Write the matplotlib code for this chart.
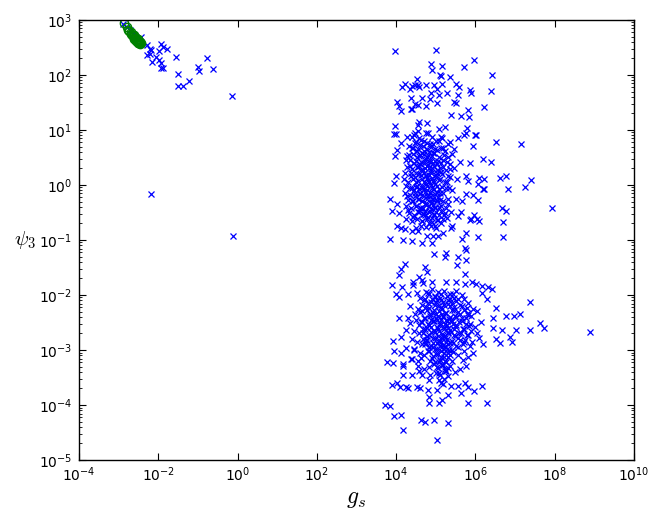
import numpy as np
import matplotlib
matplotlib.use("Agg")
import matplotlib.pyplot as plt
from matplotlib.ticker import LogLocator, NullLocator, NullFormatter

# values, stored as (log10 g_s, log10 psi_3)

# blue crosses near the top left corner
top_left = [
    (-2.88, 2.93), (-2.80, 2.88), (-2.72, 2.81), (-2.65, 2.75), (-2.55, 2.67),
    (-2.43, 2.69), (-2.28, 2.54), (-2.22, 2.48), (-2.18, 2.45), (-2.28, 2.36),
    (-2.22, 2.39), (-2.16, 2.24), (-2.05, 2.33), (-1.97, 2.27), (-1.94, 2.21),
    (-1.94, 2.12), (-1.88, 2.12), (-1.94, 2.56), (-1.88, 2.51), (-1.78, 2.48),
    (-1.97, 2.44), (-1.55, 2.32), (-1.51, 2.02), (-1.51, 1.80), (-1.38, 1.80),
    (-1.22, 1.89), (-1.01, 2.14), (-0.97, 2.08), (-0.78, 2.30), (-0.61, 2.10),
    (-0.13, 1.61), (-2.18, -0.17), (-0.12, -0.93),
]

# green open circles
green = [
    (-2.86, 2.94), (-2.80, 2.87), (-2.76, 2.82), (-2.73, 2.80), (-2.70, 2.78),
    (-2.68, 2.74), (-2.66, 2.73), (-2.64, 2.72), (-2.62, 2.70), (-2.61, 2.68),
    (-2.60, 2.66), (-2.58, 2.67), (-2.57, 2.64), (-2.56, 2.62), (-2.55, 2.64),
    (-2.54, 2.61), (-2.53, 2.63), (-2.52, 2.60), (-2.51, 2.62), (-2.50, 2.59),
    (-2.49, 2.61), (-2.48, 2.58), (-2.47, 2.60), (-2.46, 2.57), (-2.45, 2.59),
    (-2.44, 2.58), (-2.60, 2.72), (-2.55, 2.68), (-2.52, 2.65), (-2.50, 2.62),
]

# upper cluster, outer points
upper_outer = [
    (3.97, 2.44), (5.01, 2.46), (4.88, 2.20), (4.91, 2.09), (5.16, 2.16),
    (5.10, 2.00), (5.13, 1.98), (5.72, 2.14), (5.97, 2.27), (6.42, 2.00),
    (5.35, 1.96), (4.52, 1.93), (4.14, 1.79), (4.22, 1.84), (4.34, 1.74),
    (4.41, 1.80), (4.47, 1.82), (4.54, 1.81), (4.57, 1.79), (4.76, 1.82),
    (4.95, 1.82), (5.03, 1.74), (5.16, 1.84), (5.09, 1.64), (4.88, 1.68),
    (5.27, 1.68), (5.52, 1.84), (5.59, 1.79), (5.55, 1.63), (5.87, 1.73),
    (5.88, 1.68), (6.39, 1.70), (4.37, 1.58), (4.66, 1.58), (4.85, 1.56),
    (4.47, 1.47), (4.56, 1.46), (4.74, 1.44), (4.37, 1.38), (4.41, 1.39),
    (4.03, 1.50), (4.06, 1.43), (4.12, 1.35), (5.03, 1.49), (5.47, 1.51),
    (5.51, 1.49), (5.39, 1.28), (5.63, 1.26), (5.81, 1.37), (5.84, 1.23),
    (6.22, 1.41), (4.57, 1.15), (4.56, 1.09), (4.78, 1.12), (3.97, 1.07),
    (3.99, 0.93), (4.56, 0.99), (4.81, 0.95), (5.07, 1.01), (5.22, 1.06),
    (5.78, 1.03), (5.76, 0.95), (5.70, 0.91), (5.99, 0.91), (4.28, 0.88),
    (4.41, 0.87), (4.47, 0.94), (4.91, 0.87), (5.16, 0.85), (6.53, 0.79),
    (7.16, 0.74), (6.18, 0.47), (6.38, 0.42), (6.62, 0.12), (6.76, 0.17),
    (7.41, 0.09), (7.24, -0.04), (6.81, -0.07), (6.66, -0.41), (6.78, -0.47),
    (7.92, -0.41), (6.70, -0.67), (6.70, -0.95), (3.84, -0.25), (3.89, -0.47),
    (3.84, -0.98), (4.16, -1.00), (4.39, -1.02), (5.74, -1.14), (6.06, -0.94),
    (5.87, -0.63), (6.08, -0.66), (6.20, -0.08), (6.08, 0.13), (5.87, 0.40),
    (5.93, 0.70), (3.95, 0.93), (4.66, -1.05), (4.91, -1.06), (5.17, -0.88),
    (5.39, -0.79), (5.67, -0.99), (5.76, -0.87), (5.89, -0.61), (6.03, -0.61),
    (5.97, -0.54), (5.93, -0.19), (6.06, -0.28), (5.64, -0.49), (4.03, -0.75),
    (4.12, -0.78), (4.22, -0.80), (4.41, -0.84), (4.56, -0.84), (4.78, -0.92),
    (4.92, -0.93), (5.06, -0.92), (4.07, -0.51), (4.03, -0.35), (3.95, 0.04),
    (3.99, 0.16), (3.97, 0.52), (4.03, 0.64), (4.12, 0.76), (4.45, 0.91),
    (4.74, 0.94), (5.14, 0.87), (5.37, 0.79), (5.57, 0.85), (6.01, 0.91),
    (5.62, 0.41), (5.37, 0.39), (5.53, 0.10), (5.77, 0.16), (5.82, 0.07),
    (6.22, 0.11), (6.07, 0.01), (6.22, -0.08), (5.76, -0.17), (5.66, -0.29),
    (5.57, -0.57), (5.42, -0.75),
]

# upper cluster, dense core
upper_core = [
    (4.52, 0.62), (4.60, 0.55), (4.68, 0.70), (4.75, 0.48), (4.83, 0.60),
    (4.90, 0.52), (4.97, 0.66), (5.05, 0.44), (4.45, 0.40), (4.55, 0.33),
    (4.63, 0.42), (4.72, 0.30), (4.80, 0.37), (4.88, 0.25), (4.95, 0.35),
    (5.02, 0.22), (5.10, 0.31), (5.18, 0.45), (5.25, 0.28), (4.38, 0.22),
    (4.47, 0.15), (4.57, 0.20), (4.66, 0.10), (4.74, 0.18), (4.82, 0.05),
    (4.91, 0.12), (4.99, 0.02), (5.07, 0.09), (5.15, -0.03), (5.23, 0.06),
    (4.35, -0.05), (4.44, -0.10), (4.53, -0.02), (4.61, -0.15), (4.70, -0.07),
    (4.78, -0.20), (4.86, -0.12), (4.94, -0.25), (5.03, -0.15), (5.11, -0.28),
    (4.40, -0.30), (4.49, -0.38), (4.58, -0.26), (4.67, -0.42), (4.76, -0.33),
    (4.85, -0.47), (4.93, -0.36), (5.01, -0.50), (5.09, -0.40), (5.20, -0.55),
    (4.30, -0.45), (4.43, -0.58), (4.55, -0.50), (4.64, -0.65), (4.73, -0.55),
    (4.82, -0.70), (4.90, -0.60), (4.98, -0.74), (5.06, -0.63), (5.14, -0.70),
    (4.25, 0.45), (4.33, 0.55), (4.42, 0.68), (4.50, 0.78), (4.58, 0.85),
    (4.70, 0.80), (4.85, 0.75), (5.00, 0.80), (5.12, 0.68), (5.22, 0.62),
    (5.30, 0.50), (5.35, 0.15), (5.40, -0.10), (5.32, -0.35), (5.28, -0.60),
    (5.45, 0.30), (5.50, -0.25), (5.30, 0.75), (5.45, 0.65), (5.38, -0.50),
    (4.62, 0.28), (4.70, 0.40), (4.78, 0.12), (4.86, 0.45), (4.94, 0.08),
    (5.04, 0.38), (4.58, -0.08), (4.66, -0.30), (4.74, 0.02), (4.82, -0.38),
    (4.90, -0.18), (4.98, -0.42), (5.06, -0.22), (4.72, -0.48), (4.80, -0.58),
    (4.88, -0.33), (4.96, -0.55), (5.04, -0.30), (4.64, 0.58), (4.77, 0.65),
    (4.50, 0.05), (4.48, -0.20), (4.52, 0.50), (4.60, -0.42), (4.68, -0.52),
    (4.84, 0.30), (4.92, 0.40), (5.00, 0.15), (5.08, -0.08), (5.16, 0.20),
    (4.20, 0.10), (4.28, -0.20), (4.25, -0.62), (4.36, 0.35), (4.32, 0.70),
    (4.60, 0.72), (4.96, 0.58), (5.13, -0.48), (5.19, -0.15), (5.26, -0.05),
    (4.71, 0.22), (4.79, -0.10), (4.87, 0.00), (4.95, -0.08), (4.69, -0.20),
    (4.83, 0.18), (4.91, -0.25), (4.77, 0.50), (4.57, 0.35), (4.65, -0.02),
]

# more of the upper core, where the crosses merge into a solid patch
upper_core_fill = [
    (4.47, 0.76), (4.63, 0.81), (4.79, 0.77), (4.94, 0.74), (5.09, 0.80),
    (4.39, 0.68), (4.55, 0.65), (4.71, 0.62), (4.88, 0.69), (5.02, 0.63),
    (5.18, 0.67), (4.28, 0.53), (4.43, 0.57), (4.57, 0.52), (4.69, 0.56),
    (4.81, 0.54), (4.93, 0.58), (5.07, 0.51), (5.21, 0.55), (5.40, 0.57),
    (4.34, 0.45), (4.49, 0.43), (4.61, 0.39), (4.73, 0.46), (4.86, 0.41),
    (4.99, 0.44), (5.13, 0.40), (5.28, 0.42), (4.27, 0.33), (4.41, 0.29),
    (4.53, 0.32), (4.67, 0.28), (4.79, 0.34), (4.91, 0.30), (5.04, 0.27),
    (5.19, 0.33), (5.36, 0.29), (4.23, 0.21), (4.37, 0.17), (4.51, 0.22),
    (4.63, 0.18), (4.76, 0.16), (4.89, 0.21), (5.01, 0.19), (5.14, 0.23),
    (5.31, 0.17), (4.30, 0.06), (4.43, 0.10), (4.56, 0.07), (4.69, 0.05),
    (4.81, 0.09), (4.96, 0.06), (5.11, 0.10), (5.27, 0.05), (4.26, -0.02),
    (4.39, -0.06), (4.51, -0.03), (4.64, -0.05), (4.77, -0.01), (4.90, -0.06),
    (5.02, -0.02), (5.33, -0.05), (4.22, -0.14), (4.35, -0.18), (4.47, -0.15),
    (4.59, -0.17), (4.72, -0.13), (4.84, -0.19), (4.97, -0.16), (5.10, -0.14),
    (4.29, -0.27), (4.42, -0.30), (4.54, -0.26), (4.66, -0.29), (4.79, -0.25),
    (4.91, -0.31), (5.04, -0.27), (5.18, -0.30), (5.30, -0.26), (4.24, -0.38),
    (4.37, -0.42), (4.50, -0.39), (4.62, -0.41), (4.74, -0.37), (4.87, -0.43),
    (4.99, -0.40), (5.12, -0.38), (5.25, -0.42), (4.33, -0.51), (4.46, -0.54),
    (4.58, -0.50), (4.70, -0.53), (4.83, -0.49), (4.95, -0.52), (5.08, -0.55),
    (5.23, -0.51), (4.41, -0.66), (4.53, -0.62), (4.66, -0.65), (4.78, -0.61),
    (4.90, -0.67), (5.03, -0.64), (5.17, -0.62), (4.49, -0.78), (4.62, -0.74),
    (4.75, -0.77), (4.88, -0.75), (5.01, -0.79),
]

# lower cluster, outer points
lower_outer = [
    (4.95, -1.26), (5.26, -1.23), (5.24, -1.31), (5.56, -1.31), (5.76, -1.19),
    (5.76, -1.37), (5.53, -1.45), (5.74, -1.61), (4.22, -1.44), (4.12, -1.53),
    (4.06, -1.63), (4.72, -1.49), (4.78, -1.59), (4.57, -1.67), (4.64, -1.73),
    (3.89, -1.81), (4.14, -1.86), (4.43, -1.81), (4.42, -1.77), (4.67, -1.79),
    (4.91, -1.77), (5.26, -1.77), (5.51, -1.77), (5.74, -1.80), (5.91, -1.77),
    (6.01, -1.80), (6.16, -1.83), (6.31, -1.86), (6.42, -1.89), (3.99, -1.99),
    (4.06, -2.04), (4.31, -1.99), (4.53, -1.97), (4.82, -1.99), (6.16, -1.97),
    (6.28, -2.07), (7.38, -2.12), (6.51, -2.24), (6.78, -2.39), (6.97, -2.39),
    (7.12, -2.35), (6.45, -2.42), (6.45, -2.60), (6.67, -2.63), (7.03, -2.63),
    (7.38, -2.63), (7.62, -2.51), (7.74, -2.60), (8.89, -2.68), (6.87, -2.76),
    (6.92, -2.86), (6.62, -2.88), (6.51, -2.80), (4.06, -2.42), (4.31, -2.42),
    (4.36, -2.51), (4.24, -2.63), (4.12, -2.76), (3.92, -2.83), (3.95, -3.01),
    (4.12, -3.06), (4.24, -2.96), (4.45, -2.98), (4.62, -3.14), (4.41, -3.16),
    (3.76, -3.22), (3.91, -3.24), (4.16, -3.26), (4.37, -3.16), (4.17, -3.30),
    (4.56, -3.30), (4.82, -3.31), (4.57, -3.38), (4.16, -3.46), (4.41, -3.46),
    (3.89, -3.64), (4.01, -3.60), (4.09, -3.68), (4.24, -3.67), (4.31, -3.70),
    (4.53, -3.67), (4.59, -3.70), (4.82, -3.54), (4.81, -3.73), (5.03, -3.73),
    (4.84, -3.85), (4.82, -3.96), (5.07, -3.96), (5.16, -3.91), (5.32, -3.81),
    (5.39, -3.66), (5.57, -3.66), (5.74, -3.60), (5.81, -3.67), (5.97, -3.74),
    (6.16, -3.66), (5.64, -3.79), (5.81, -3.96), (6.28, -3.97), (3.72, -4.00),
    (3.84, -4.02), (3.95, -4.20), (4.12, -4.19), (4.17, -4.45), (4.62, -4.28),
    (4.72, -4.31), (4.95, -4.28), (5.30, -4.32), (5.03, -4.64),
]

# lower cluster, dense core
lower_core = [
    (4.60, -2.05), (4.70, -2.10), (4.80, -2.15), (4.90, -2.08), (5.00, -2.12),
    (5.10, -2.05), (5.20, -2.18), (5.30, -2.10), (5.40, -2.15), (5.55, -2.08),
    (5.65, -2.20), (5.80, -2.15), (5.95, -2.25), (4.55, -2.25), (4.65, -2.30),
    (4.75, -2.22), (4.85, -2.35), (4.95, -2.28), (5.05, -2.38), (5.15, -2.25),
    (5.25, -2.32), (5.35, -2.40), (5.45, -2.28), (5.60, -2.35), (5.75, -2.42),
    (5.90, -2.38), (6.05, -2.30), (4.50, -2.45), (4.62, -2.50), (4.72, -2.42),
    (4.82, -2.55), (4.92, -2.48), (5.02, -2.58), (5.12, -2.45), (5.22, -2.52),
    (5.32, -2.60), (5.42, -2.48), (5.52, -2.55), (5.70, -2.62), (5.85, -2.52),
    (6.00, -2.58), (6.15, -2.50), (4.45, -2.65), (4.58, -2.70), (4.68, -2.62),
    (4.78, -2.75), (4.88, -2.68), (4.98, -2.78), (5.08, -2.65), (5.18, -2.72),
    (5.28, -2.80), (5.38, -2.68), (5.48, -2.75), (5.62, -2.82), (5.78, -2.72),
    (5.92, -2.85), (6.10, -2.78), (4.52, -2.85), (4.64, -2.90), (4.74, -2.82),
    (4.84, -2.95), (4.94, -2.88), (5.04, -2.98), (5.14, -2.85), (5.24, -2.92),
    (5.34, -3.00), (5.44, -2.88), (5.56, -2.95), (5.70, -3.02), (5.85, -2.92),
    (4.60, -3.05), (4.70, -3.10), (4.80, -3.02), (4.90, -3.15), (5.00, -3.08),
    (5.10, -3.18), (5.20, -3.05), (5.30, -3.12), (5.42, -3.20), (5.55, -3.10),
    (5.68, -3.18), (5.82, -3.12), (4.95, -3.25), (5.05, -3.32), (5.15, -3.28),
    (5.25, -3.38), (5.35, -3.30), (5.48, -3.40), (5.10, -3.45), (5.20, -3.52),
    (5.00, -3.42), (5.30, -3.48), (5.12, -3.60), (5.22, -3.35), (5.08, -3.55),
    (5.18, -3.62), (4.70, -3.35), (4.85, -3.45), (5.60, -3.35), (5.75, -3.30),
    (5.05, -2.20), (5.15, -2.35), (5.25, -2.45), (5.10, -2.55), (5.20, -2.62),
    (5.30, -2.70), (5.15, -2.78), (5.25, -2.85), (5.10, -2.92), (5.20, -2.98),
    (5.30, -3.05), (5.12, -3.12), (5.22, -3.20), (5.08, -3.22), (5.00, -2.35),
    (4.96, -2.65), (5.06, -2.75), (5.16, -2.95), (5.28, -2.55), (5.36, -2.20),
    (4.88, -2.45), (4.78, -2.60), (4.68, -2.80), (4.58, -2.55), (4.48, -2.35),
    (4.40, -2.80), (4.35, -2.20), (4.45, -3.00), (4.55, -3.20), (4.65, -3.45),
    (5.45, -2.62), (5.50, -2.40), (5.58, -2.70), (5.65, -2.48), (5.72, -2.85),
    (5.80, -2.32), (5.88, -2.65), (5.95, -3.05), (6.05, -2.70), (6.20, -2.90),
    (4.75, -1.95), (4.90, -1.90), (5.05, -1.95), (5.20, -1.92), (5.35, -1.98),
    (5.50, -1.93), (5.65, -2.00), (5.45, -2.05), (5.12, -2.10), (4.98, -2.02),
    (5.02, -2.45), (5.18, -2.40), (5.08, -2.85), (5.24, -2.75), (4.92, -2.95),
    (5.32, -2.90), (5.40, -3.00), (4.86, -3.20), (4.76, -2.88), (5.38, -2.45),
]

# more of the lower core
lower_core_fill = [
    (4.81, -1.97), (4.97, -2.03), (5.13, -1.99), (5.29, -2.02), (5.44, -1.98),
    (4.72, -2.08), (4.88, -2.13), (5.04, -2.09), (5.19, -2.12), (5.35, -2.07),
    (5.52, -2.11), (5.70, -2.08), (4.66, -2.19), (4.83, -2.23), (4.99, -2.18),
    (5.14, -2.21), (5.30, -2.17), (5.46, -2.22), (5.62, -2.19), (5.78, -2.23),
    (4.60, -2.31), (4.77, -2.28), (4.93, -2.32), (5.08, -2.29), (5.24, -2.33),
    (5.40, -2.28), (5.56, -2.31), (5.72, -2.27), (4.70, -2.41), (4.86, -2.38),
    (5.01, -2.42), (5.17, -2.39), (5.33, -2.43), (5.49, -2.38), (5.65, -2.41),
    (5.82, -2.37), (4.65, -2.49), (4.80, -2.52), (4.95, -2.48), (5.11, -2.51),
    (5.27, -2.47), (5.43, -2.52), (5.59, -2.49), (5.76, -2.53), (4.73, -2.61),
    (4.89, -2.58), (5.05, -2.62), (5.20, -2.59), (5.36, -2.63), (5.52, -2.58),
    (5.68, -2.61), (5.84, -2.57), (4.68, -2.69), (4.84, -2.72), (4.99, -2.68),
    (5.15, -2.71), (5.31, -2.67), (5.47, -2.72), (5.63, -2.69), (5.80, -2.73),
    (4.77, -2.81), (4.93, -2.78), (5.08, -2.82), (5.24, -2.79), (5.40, -2.83),
    (5.56, -2.78), (5.74, -2.81), (4.72, -2.89), (4.88, -2.92), (5.03, -2.88),
    (5.19, -2.91), (5.35, -2.87), (5.51, -2.92), (5.68, -2.89), (4.83, -3.01),
    (4.98, -2.98), (5.13, -3.02), (5.28, -2.99), (5.44, -3.03), (4.92, -3.11),
    (5.06, -3.08), (5.21, -3.12), (5.36, -3.09), (4.97, -3.21), (5.11, -3.18),
    (5.26, -3.22), (5.02, -3.31), (5.17, -3.28), (5.31, -3.32), (5.08, -3.41),
    (5.22, -3.38),
]

x_ticks = [1e-4, 1e-2, 1e0, 1e2, 1e4, 1e6, 1e8, 1e10]
y_ticks = [1e-5, 1e-4, 1e-3, 1e-2, 1e-1, 1e0, 1e1, 1e2, 1e3]


def unlog(pts):
    a = np.array(pts)
    return 10 ** a[:, 0], 10 ** a[:, 1]


fig = plt.figure(figsize=(6.55, 5.2), dpi=100)
ax = fig.add_axes([0.1206, 0.1154, 0.8474, 0.8462])

for grp in [top_left, upper_outer, upper_core, upper_core_fill,
            lower_outer, lower_core, lower_core_fill]:
    gx, gy = unlog(grp)
    ax.plot(gx, gy, linestyle='none', marker='x', color='b', ms=5, mew=0.9)

gx, gy = unlog(green)
ax.plot(gx, gy, linestyle='none', marker='o', mfc='none', mec='g', ms=6, mew=1.0)

ax.set_xscale('log')
ax.set_yscale('log')
ax.set_xticks(x_ticks)
ax.set_yticks(y_ticks)
ax.set_xlim(1e-4, 1e10)
ax.set_ylim(1e-5, 1e3)
ax.xaxis.set_minor_locator(NullLocator())
ax.yaxis.set_minor_locator(LogLocator(base=10, subs=np.arange(2, 10), numticks=20))
ax.yaxis.set_minor_formatter(NullFormatter())

ax.tick_params(which='both', direction='in', top=True, right=True, labelsize=10)
ax.tick_params(which='major', length=5, width=0.8)
ax.tick_params(which='minor', length=2.5, width=0.6)
ax.tick_params(axis='x', pad=4)
ax.tick_params(axis='y', pad=5)
for sp in ax.spines.values():
    sp.set_linewidth(1.0)

ax.set_xlabel(r'$g_s$', fontsize=17, math_fontfamily='cm', va='center')
ax.xaxis.set_label_coords(0.5, -0.086)
ax.set_ylabel(r'$\psi_3$', fontsize=15, math_fontfamily='cm', rotation=0,
              ha='center', va='center')
ax.yaxis.set_label_coords(-0.097, 0.5)

fig.savefig('out.png', dpi=100, facecolor='white')
